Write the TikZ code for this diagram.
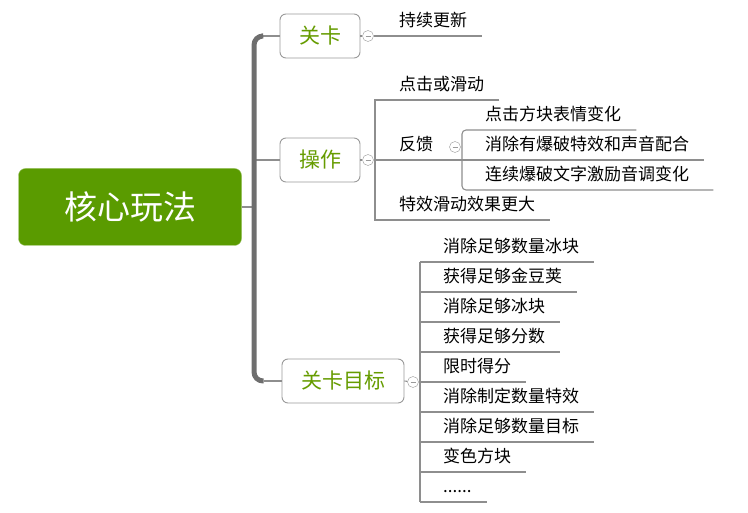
\documentclass[tikz,border=0pt]{standalone}
\usepackage{fontspec}
\usepackage{xcolor}
\newfontfamily\cjk{Noto Sans CJK SC}
\usetikzlibrary{calc}
\definecolor{rootgreen}{HTML}{5A9B00}
\definecolor{topicgreen}{HTML}{669C00}
\definecolor{linegray}{HTML}{8E8E8E}
\definecolor{boxgray}{HTML}{9A9A9A}
\definecolor{trunkgray}{HTML}{6E6E6E}
\newcommand\etcdots{......}
\tikzset{
  rootbox/.style={rounded corners=7pt, fill=rootgreen, draw=rootgreen!60!white, text=white, font=\cjk\fontsize{33}{36}\selectfont, minimum width=223pt, minimum height=77pt},
  topicbox/.style={rounded corners=6pt, draw=boxgray, line width=0.9pt, fill=white, text=topicgreen, font=\cjk\fontsize{21}{24}\selectfont, inner xsep=19pt, minimum height=44pt},
  leaf/.style={anchor=west, inner sep=0pt, text height=15pt, text depth=2pt, font=\cjk\fontsize{17}{20}\selectfont},
  fold/.style={circle, draw=boxgray, fill=white, inner sep=0pt, minimum size=11pt, path picture={\draw[boxgray] ([xshift=-2.5pt]path picture bounding box.center) -- ([xshift=2.5pt]path picture bounding box.center);}},
  branch/.style={draw=linegray, line width=1.1pt},
  trunk/.style={draw=trunkgray, line width=5pt}
}

\begin{document}
\begin{tikzpicture}[x=1pt,y=-1pt]
  \useasboundingbox (0,0) rectangle (748,513);
  \node[rootbox] (root) at (130,207) {核心玩法};
  \node[topicbox] (guanka) at (320,36) {关卡}; \node[topicbox] (caozuo) at (320,160) {操作}; \node[topicbox] (mubiao) at (343,381) {关卡目标};
  \coordinate (tk) at (254,207);
  \draw[branch] (root.east) -- (tk); \draw[branch] (tk |- caozuo.west) -- (caozuo.west);
  \draw[branch] ([xshift=-18pt]guanka.west) -- (guanka.west); \draw[branch] ([xshift=-18pt]mubiao.west) -- (mubiao.west);
  \draw[trunk, rounded corners=9pt] ([xshift=-18pt]guanka.west) -| (tk) |- ([xshift=-18pt]mubiao.west);
  \node[fold] (f1) at (368,36) {}; \node[fold] (f2) at (368,160) {}; \node[fold] (f3) at (413,382) {};
  \draw[branch] (guanka.east) -- (f1); \draw[branch] (caozuo.east) -- (f2); \draw[branch] (mubiao.east) -- (f3);

  \node[leaf] (gx) at (399,20) {持续更新};
  \draw[branch] (f1) -- ($(gx.east)+(15,16)$);

  \node[leaf] (cz1) at (399,84) {点击或滑动}; \node[leaf] (cz2) at (399,144) {反馈}; \node[leaf] (cz3) at (399,204) {特效滑动效果更大};
  \draw[branch] ($(cz1.east)+(15,16)$) -- ($(cz1.west)+(-24,16)$) -- ($(cz3.west)+(-24,16)$) -- ($(cz3.east)+(15,16)$);
  \node[leaf] (fk1) at (485,114) {点击方块表情变化}; \node[leaf] (fk2) at (485,144) {消除有爆破特效和声音配合}; \node[leaf] (fk3) at (485,174) {连续爆破文字激励音调变化};
  \node[fold] (f4) at (455,147) {};
  \draw[branch, rounded corners=4pt] ($(fk1.east)+(15,16)$) -- ($(fk1.west)+(-23,16)$) -- ($(fk3.west)+(-23,16)$) -- ($(fk3.east)+(24,16)$);
  \draw[branch] (f2) -- ($(fk2.east)+(15,16)$);

  \foreach \txt [count=\i from 0] in {消除足够数量冰块,获得足够金豆荚,消除足够冰块,获得足够分数,限时得分,消除制定数量特效,消除足够数量目标,变色方块,\etcdots}
  { \node[leaf] (mb\i) at (443,246+30*\i) {\txt}; \draw[branch] ($(mb\i.west)+(-23,16)$) -- ($(mb\i.east)+(15,16)$); }
  \draw[branch] ($(mb0.west)+(-23,16)$) -- ($(mb8.west)+(-23,16)$); \draw[branch] (f3) -- ($(mb4.west)+(-23,16)$);
\end{tikzpicture}
\end{document}
